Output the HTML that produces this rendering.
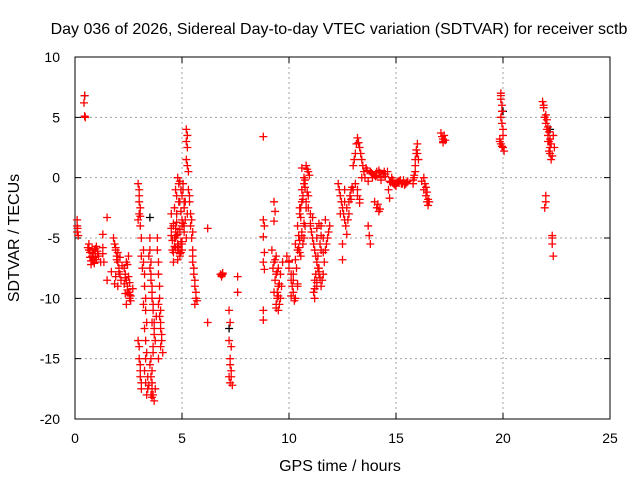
<!DOCTYPE html>
<html><head><meta charset="utf-8"><style>
body{margin:0;background:#fff}
svg{display:block;font-family:"Liberation Sans",sans-serif}
</style></head><body>
<svg id="chart" width="640" height="480" viewBox="0 0 640 480">
<text x="339" y="34" font-size="16" text-anchor="middle">Day 036 of 2026, Sidereal Day-to-day VTEC variation (SDTVAR) for receiver sctb</text>
<g id="grid"></g>
<g id="axes"></g>
<g id="marks-black"></g>
<g id="marks"></g>
<text x="340" y="471" font-size="16" text-anchor="middle">GPS time / hours</text>
<text transform="translate(19,238) rotate(-90)" font-size="16" text-anchor="middle">SDTVAR / TECUs</text>
</svg>
<script>
const xTicks = [0,5,10,15,20,25];
const yTicks = [-20,-15,-10,-5,0,5,10];
const hours = [
0.1,0.1,0.12,0.1,0.15,
0.45,0.42,0.45,0.48,
0.6,0.65,0.7,0.75,0.8,0.85,0.9,0.95,1.0,1.05,1.1,1.2,0.7,0.9,1.0,
1.3,1.3,1.3,1.35,1.5,1.5,
1.8,1.85,1.9,1.95,2.0,2.05,2.1,2.15,1.9,2.0,2.2,1.7,
2.3,2.35,2.4,2.45,2.5,2.55,2.6,2.4,2.5,2.3,2.6,2.7,
2.95,3.0,3.0,3.05,3.0,2.95,3.05,3.1,3.1,3.15,
2.95,3.0,3.0,3.05,3.05,3.1,
3.2,3.2,3.25,3.25,3.3,3.3,3.35,3.3,3.25,3.3,3.35,3.4,3.2,
3.5,3.5,3.55,3.55,3.6,3.6,3.65,3.6,3.7,3.65,3.6,3.7,3.55,3.75,
3.85,3.85,3.9,3.9,3.95,3.95,4.0,4.0,4.05,3.9,4.0,
4.5,4.6,4.7,4.8,4.9,5.0,5.1,5.2,4.55,4.65,4.75,4.85,4.95,5.05,5.15,5.25,4.7,4.8,4.9,5.0,5.1,4.8,4.9,5.0,4.6,4.7,4.5,4.9,5.0,5.1,
5.2,5.25,5.2,5.25,5.2,5.3,5.25,
5.3,5.35,5.4,5.4,5.45,5.5,5.5,5.55,5.6,5.65,5.6,5.5,
6.2,6.2,6.8,6.85,6.9,
7.2,7.25,7.2,7.3,7.25,7.3,7.2,7.25,7.6,7.6,
8.8,8.8,8.85,8.8,8.85,8.8,8.85,8.8,8.8,
9.3,9.35,9.3,9.2,9.3,9.4,9.5,9.6,9.4,9.5,9.6,9.7,9.3,9.4,9.5,9.45,
9.9,10.0,10.1,10.2,10.3,10.4,10.0,10.2,10.3,10.4,
10.3,10.4,10.5,10.6,10.7,10.8,10.9,10.5,10.6,10.7,10.4,10.5,10.6,10.8,10.9,11.0,10.6,10.7,
11.0,11.1,11.2,11.3,11.4,11.5,11.6,11.7,11.8,11.9,11.2,11.3,11.4,11.5,11.6,11.1,11.2,11.3,11.5,11.7,
12.3,12.4,12.5,12.6,12.7,12.8,12.9,12.4,12.6,12.8,12.5,12.5,
13.0,13.1,13.2,13.3,13.4,13.5,13.1,13.2,13.3,13.4,13.0,
13.6,13.8,14.0,14.2,14.4,14.6,13.7,13.9,14.1,14.3,14.5,14.0,14.1,14.2,13.7,13.75,13.8,
14.7,14.9,15.1,15.3,15.5,14.8,15.0,15.2,15.4,14.65,14.7,
15.8,15.9,15.95,16.0,16.05,15.85,15.9,16.2,16.3,16.4,16.45,16.5,16.3,
17.1,17.2,17.25,17.2,17.3,
19.9,19.9,19.95,19.9,19.95,20.0,19.85,19.9,20.0,20.05,
21.85,21.9,21.95,22.0,22.05,22.1,22.15,22.2,22.2,22.25,22.0,22.0,21.95,22.3,22.3,22.35,22.3,22.4,22.35,22.3,
/* extra density */
0.65,0.75,0.85,0.95,1.05,0.8,0.9,
1.85,1.95,2.05,2.1,2.0,1.9,
2.35,2.45,2.55,2.4,2.5,2.45,2.55,2.35,
3.0,3.05,3.05,3.1,3.25,3.3,3.35,3.4,3.45,3.5,3.55,3.6,3.65,3.7,3.75,3.8,3.45,3.5,3.55,3.6,3.65,3.55,3.6,3.6,3.65,3.7,
3.9,3.95,4.0,4.05,4.1,
4.5,4.55,4.6,4.65,4.7,4.75,4.8,4.85,4.9,4.95,5.0,5.05,5.1,5.15,4.6,4.7,4.8,4.9,5.0,5.1,4.65,4.75,4.85,4.95,5.05,4.75,4.85,4.95,
5.35,5.45,5.5,5.55,5.6,5.65,5.7,
6.85,6.9,7.25,7.3,7.35,
9.25,9.35,9.45,9.55,9.65,9.35,9.45,9.55,9.4,9.5,
10.0,10.1,10.15,10.25,10.35,10.1,10.2,
10.45,10.55,10.65,10.75,10.85,10.95,10.55,10.65,10.75,10.85,10.5,10.6,10.7,10.8,10.45,10.55,10.65,10.75,10.9,11.0,
11.05,11.15,11.25,11.35,11.45,11.55,11.65,11.75,11.85,11.15,11.25,11.35,11.45,11.3,11.4,11.5,11.6,11.2,11.3,11.4,
12.35,12.45,12.55,12.65,12.75,12.85,12.95,12.6,12.7,12.9,
13.05,13.15,13.25,13.35,13.45,13.55,13.2,13.3,
13.65,13.85,14.05,14.25,14.45,13.9,14.1,14.3,14.5,14.15,14.25,
14.75,14.85,14.95,15.05,15.15,15.25,15.35,15.45,15.55,
15.8,15.85,15.9,15.95,16.0,16.35,16.4,16.45,16.5,16.55,
17.15,17.2,
19.85,19.9,19.95,20.0,19.95,
21.9,22.0,22.05,22.1,22.15,22.2,22.25,22.1,22.15
];
const sdtvar = [
-3.5,-4,-4.2,-4.5,-4.8,
6.8,6.2,5.1,5.0,
-5.8,-5.5,-6.2,-7.2,-6.5,-6.8,-6.0,-5.9,-6.8,-6.3,-6.5,-7.0,-6.6,-7.1,-5.7,
-4.7,-5.8,-6.3,-7.0,-3.3,-8.5,
-5,-5.5,-6,-6.5,-7,-7.5,-8,-8.5,-5.8,-6.2,-7.3,-7.8,
-7.5,-8,-8.5,-9,-9.5,-10,-9.8,-7,-6.5,-8.8,-10.2,-9.2,
-0.5,-1,-2,-2.5,-3,-3.5,-4,-5,-6.5,-7.5,
-13.5,-14,-15,-16,-16.5,-17,
-6,-7,-8,-9,-10,-11,-12,-15,-16,-17,-18,-17.5,-10.5,
-5,-6,-7,-8,-9,-10,-11,-12,-13,-14,-18.2,-18.5,-18,-17.5,
-5,-6,-7,-8,-9,-10,-11,-12,-13,-15,-14,
-3,-4,-5,-5.5,-4.5,-3.5,-4,-5,-6,-5,-3,-2,-1,-0.5,-2,-3,-1,0,-0.3,-1.5,-2.5,-6,-6.5,-5.5,-7,-4.5,-4.8,-2,-6,-4,
4.0,3.5,3.0,2.5,1.5,0.5,1.0,
-1,-2,-3,-4,-5,-6,-7,-8,-9,-10,-10.5,-6.5,
-4.2,-12,-8,-8.2,-7.9,
-11,-12,-13.5,-14,-15,-16,-16.5,-17,-8.2,-9.5,
3.4,-3.5,-4,-4.9,-6.2,-7,-7.6,-11,-11.8,
-2,-2.8,-3.6,-6,-7,-8,-9,-10,-10.5,-11,-8,-7,-9.5,-6.5,-7.5,-10,
-6.5,-7.5,-8.5,-9.5,-10,-9,-7,-8,-6.8,-8.8,
-5.5,-4,-2.5,-1,0,1,0.5,-3,-2,-0.5,-6,-6.2,-4.5,-2,-1.5,-3,0.8,-5,
-4,-5,-6,-7,-8,-9,-8,-6,-5,-4,-10,-9,-7.5,-6,-5,-3.3,-8.5,-5,-4,-3.5,
-0.5,-1.5,-2.5,-3.5,-4.7,-2,-1,-3,-1,-3,-5.5,-6.8,
1,2,3.3,2.5,1.5,0.5,-0.5,-1.5,-2.1,0,-1,
0.8,0.5,0.2,0.6,0.3,0.5,-0.3,0,0.5,-0.2,0.1,-2,-2.5,-2.8,-4,-4.8,-5.5,
-0.3,-0.5,-0.3,-0.5,-0.4,0,-0.7,-0.2,-0.6,-1,-1.7,
-0.5,1,2,2.8,1.5,0,0.5,-0.3,-1,-1.5,-2,-2.3,0,
3.7,3.2,3.5,2.9,3.1,
7,6.5,6,5,4.5,4,3.2,2.8,2.5,2.2,
6.3,6,5,4.5,4,3.5,3,2.5,2,1.5,-1.5,-2,-2.5,-5,-5.5,-6.5,-4.8,2.5,3.5,1.8,
/* extra density */
-6.0,-6.9,-6.3,-6.6,-6.1,-5.9,-7.0,
-8.8,-6.8,-7.8,-6.6,-9.0,-8.2,
-8.3,-9.3,-9.7,-10.5,-8.2,-7.2,-8.7,-9.6,
-1.5,-3.2,-15.5,-17.5,-12.5,-13.5,-14.5,-16.5,-17.2,-15.5,-16.5,-17.5,-18.0,-12.5,-13.5,-11.5,-6.5,-7.5,-8.5,-9.5,-10.5,-15.0,-16.0,-17.0,-14.5,-12.0,
-10.5,-11.5,-12.5,-13.5,-14.5,
-4.2,-5.2,-6.2,-5.7,-4.2,-3.7,-4.7,-5.7,-4.3,-5.3,-4.0,-1.0,-2.0,-3.5,-3.8,-5.8,-6.8,-6.3,-5.3,-4.5,-2.5,-1.5,-0.5,-2.8,-3.8,-4.8,-5.8,-6.2,
-1.5,-3.5,-4.5,-7.5,-8.5,-9.5,-10.2,
-8.1,-8.0,-15.5,-16.5,-17.2,
-7.5,-8.5,-9.5,-10.5,-9.0,-6.8,-7.8,-8.8,-10.8,-9.8,
-6.9,-8.0,-9.0,-10.2,-7.5,-9.8,-8.5,
-4.8,-3.3,-1.8,-0.2,0.7,0.2,-2.5,-1.5,-0.8,-1.2,-5.2,-4.8,-3.8,-2.5,-5.8,-6.5,-5.5,-4.0,-2.5,-3.8,
-4.5,-5.5,-6.5,-7.5,-8.3,-8.5,-7.0,-5.5,-4.5,-9.5,-8.0,-6.5,-5.5,-4.2,-3.8,-4.8,-6.2,-9.2,-8.7,-7.8,
-1.0,-2.0,-3.0,-4.0,-3.5,-1.5,-0.8,-2.0,-2.5,-1.8,
1.5,2.8,2.9,2.0,1.0,0.0,-1.0,-1.8,
0.6,0.4,0.1,0.4,0.5,0.3,0.2,0.0,0.3,-2.2,-2.6,
-0.4,-0.2,-0.6,-0.4,-0.3,-0.5,-0.2,-0.5,-0.3,
-0.2,0.2,1.5,2.3,2.0,-0.5,-0.8,-1.2,-1.8,-2.0,
3.4,3.0,
3.0,6.8,5.5,3.5,2.6,
5.8,5.2,4.8,4.2,3.8,3.2,2.8,3.0,2.2
];
const blackHours = [0.45,3.5,7.2,20.0,22.2];
const blackValues = [6.8,-3.3,-12.5,5.5,4];

const L=75,R=610,T=57,B=419;
const X=v=>L+(v-0)/25*(R-L);
const Y=v=>B-(v+20)/30*(B-T);
const NS='http://www.w3.org/2000/svg';
function mk(tag,parent){const e=document.createElementNS(NS,tag);parent.appendChild(e);return e;}
const grid=document.getElementById('grid'),axes=document.getElementById('axes');
xTicks.forEach(t=>{
  const x=X(t);
  if(t>0&&t<25){const g=mk('line',grid);
    
    
    g.setAttribute('x1',x);g.setAttribute('x2',x);g.setAttribute('y1',T);g.setAttribute('y2',B);
    g.setAttribute('stroke','#a0a0a0');g.setAttribute('stroke-dasharray','2,3');}
  const tk=mk('path',axes);
  
  
  tk.setAttribute('d',`M${x} ${B}v-6M${x} ${T}v6`);tk.setAttribute('stroke','#000');
  const lb=mk('text',axes);
  
  
  lb.setAttribute('x',x);lb.setAttribute('y',443);lb.setAttribute('font-size','14');lb.setAttribute('text-anchor','middle');
  lb.textContent=t;
});
yTicks.forEach(t=>{
  const y=Y(t);
  if(t>-20&&t<10){const g=mk('line',grid);
    
    
    g.setAttribute('x1',L);g.setAttribute('x2',R);g.setAttribute('y1',y);g.setAttribute('y2',y);
    g.setAttribute('stroke','#a0a0a0');g.setAttribute('stroke-dasharray','2,3');}
  const tk=mk('path',axes);
  
  
  tk.setAttribute('d',`M${L} ${y}h6M${R} ${y}h-6`);tk.setAttribute('stroke','#000');
  const lb=mk('text',axes);
  
  
  lb.setAttribute('x',60);lb.setAttribute('y',y+5);lb.setAttribute('font-size','14');lb.setAttribute('text-anchor','end');
  lb.textContent=t;
});
const fr=mk('rect',axes);


fr.setAttribute('x',L);fr.setAttribute('y',T);fr.setAttribute('width',R-L);fr.setAttribute('height',B-T);
fr.setAttribute('fill','none');fr.setAttribute('stroke','#000');
function plot(hs,vs,g,color,name){
  let d='';
  for(let i=0;i<hs.length;i++){const x=X(hs[i]),y=Y(vs[i]);d+=`M${x-4} ${y}h8M${x} ${y-4}v8`;}
  const p=mk('path',g);
  
  
  p.setAttribute('d',d);p.setAttribute('stroke',color);p.setAttribute('stroke-width','1.3');p.setAttribute('fill','none');
}
plot(blackHours,blackValues,document.getElementById('marks-black'),'#000','black-points');
plot(hours,sdtvar,document.getElementById('marks'),'#ff0000','red-points');
</script>
</body></html>
